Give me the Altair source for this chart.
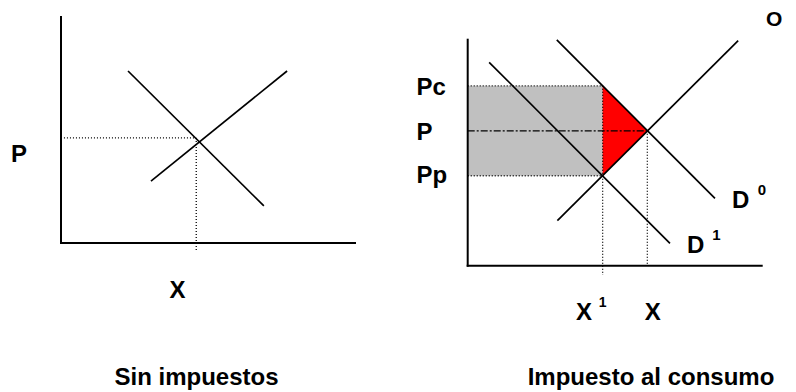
import altair as alt
import pandas as pd

# ---------------- data (economic units, both axes run 0..10) ----------------
AXIS_MAX = 10.0

# Left panel: "Sin impuestos"
L_demand = [2.28, 7.61, 6.90, 1.64]   # q1, p1, q2, p2
L_supply = [3.06, 2.74, 7.69, 7.61]
L_eq_q = 4.60
L_eq_p = 4.65
L_guide_low = -0.35

L_label_text = ["P", "X"]
L_label_q = [-1.70, 3.96]
L_label_p = [3.58, -2.43]
L_title = "Sin impuestos"
L_title_q = 4.61
L_title_p = -6.28

# Right panel: "Impuesto al consumo"
R_D0 = [3.03, 9.99, 8.41, 2.98]
R_D1 = [0.73, 9.00, 6.88, 0.99]
R_S = [3.05, 1.99, 9.20, 9.96]
R_Pc, R_P, R_Pp = 7.96, 5.97, 3.98
R_X1, R_X = 4.59, 6.11
R_X1_low = -0.41

R_left_text = ["Pc", "P", "Pp", "D", "D"]
R_left_q = [-1.74, -1.74, -1.74, 8.99, 7.46]
R_left_p = [7.55, 5.56, 3.66, 2.55, 0.56]
R_center_text = ["X", "X", "0", "1", "1"]
R_center_q = [3.96, 6.29, 10.01, 8.46, 4.59]
R_center_p = [-2.40, -2.40, 3.13, 1.13, -1.84]
R_center_fs = [24, 24, 15, 15, 14]
R_right_text = ["O", "Impuesto al consumo"]
R_right_q = [10.70, 10.43]
R_right_p = [10.60, -5.28]
R_right_fs = [21, 24]

# ---------------- layout (pixels) ----------------
PX_X = 29.4   # px per unit on the quantity axis
PX_Y = 22.6   # px per unit on the price axis
H = 384
W_L, W_R = 398, 382
L_ORIGIN = (53.0, 235.0)
R_ORIGIN = (61.7, 257.7)
FONT = "Liberation Sans"
FS = 24


def make_scales(w, origin):
    ox, oy = origin
    xs = alt.Scale(domain=[-ox / PX_X, (w - ox) / PX_X], nice=False, zero=False)
    ys = alt.Scale(domain=[-(H - oy) / PX_Y, oy / PX_Y], nice=False, zero=False)
    return xs, ys


def seg_df(segs):
    return pd.DataFrame(segs, columns=["q", "p", "q2", "p2"])


def rules(df, xs, ys, **mk):
    return alt.Chart(df).mark_rule(**mk).encode(
        x=alt.X("q:Q", scale=xs, axis=None),
        y=alt.Y("p:Q", scale=ys, axis=None),
        x2="q2:Q",
        y2="p2:Q",
    )


def texts(df, xs, ys, align):
    return alt.Chart(df).mark_text(
        align=align, baseline="alphabetic", font=FONT, fontWeight="bold", color="black"
    ).encode(
        x=alt.X("q:Q", scale=xs, axis=None),
        y=alt.Y("p:Q", scale=ys, axis=None),
        text="t:N",
        size=alt.Size("fs:Q", scale=None, legend=None),
    )


axes_segs = [[0, 0, AXIS_MAX, 0], [0, 0, 0, AXIS_MAX]]
DOT = dict(color="black", strokeWidth=1.3, strokeDash=[1, 2])

# ---------------- left panel ----------------
xsL, ysL = make_scales(W_L, L_ORIGIN)
left_dotted = seg_df([[0.1, L_eq_p, L_eq_q, L_eq_p], [L_eq_q, L_eq_p, L_eq_q, L_guide_low]])
left_curves = seg_df([L_demand, L_supply])
left_lbl = pd.DataFrame({"q": L_label_q, "p": L_label_p, "t": L_label_text, "fs": [FS] * len(L_label_text)})
left_lbl_a = left_lbl.iloc[[0]]
left_lbl_c = pd.concat([left_lbl.iloc[[1]],
                        pd.DataFrame({"q": [L_title_q], "p": [L_title_p], "t": [L_title], "fs": [FS]})])

left = alt.layer(
    rules(left_dotted, xsL, ysL, **DOT),
    rules(left_curves, xsL, ysL, color="black", strokeWidth=1.7),
    rules(seg_df(axes_segs), xsL, ysL, color="black", strokeWidth=2, strokeCap="square"),
    texts(left_lbl_a, xsL, ysL, "left"),
    texts(left_lbl_c, xsL, ysL, "center"),
).properties(width=W_L, height=H)

# ---------------- right panel ----------------
xsR, ysR = make_scales(W_R, R_ORIGIN)
rect_df = pd.DataFrame({"q": [0.0], "q2": [R_X1], "p": [R_Pp], "p2": [R_Pc]})
gray = alt.Chart(rect_df).mark_rect(color="#C0C0C0").encode(
    x=alt.X("q:Q", scale=xsR, axis=None), x2="q2:Q",
    y=alt.Y("p:Q", scale=ysR, axis=None), y2="p2:Q")
tri_df = pd.DataFrame({"q": [R_X1, R_X], "p": [R_Pp, R_P], "p2": [R_Pc, R_P]})
red = alt.Chart(tri_df).mark_area(color="#FF0000", opacity=1).encode(
    x=alt.X("q:Q", scale=xsR, axis=None),
    y=alt.Y("p:Q", scale=ysR, axis=None), y2="p2:Q")
right_dotted = seg_df([
    [0, R_Pc, R_X1, R_Pc],
    [0, R_Pp, R_X1, R_Pp],
    [R_X1, R_Pc, R_X1, R_X1_low],
    [R_X, R_P, R_X, 0],
])
right_dashdot = seg_df([[0, R_P, R_X, R_P]])
right_curves = seg_df([R_D0, R_D1, R_S])
r_lbl_left = pd.DataFrame({"q": R_left_q, "p": R_left_p, "t": R_left_text, "fs": [FS] * len(R_left_text)})
r_lbl_center = pd.DataFrame({"q": R_center_q, "p": R_center_p, "t": R_center_text, "fs": R_center_fs})
r_lbl_right = pd.DataFrame({"q": R_right_q, "p": R_right_p, "t": R_right_text, "fs": R_right_fs})

right = alt.layer(
    gray,
    red,
    rules(right_dotted, xsR, ysR, **DOT),
    rules(right_dashdot, xsR, ysR, color="black", strokeWidth=1.3, strokeDash=[7, 2, 2, 2]),
    rules(right_curves, xsR, ysR, color="black", strokeWidth=1.7),
    rules(seg_df(axes_segs), xsR, ysR, color="black", strokeWidth=2, strokeCap="square"),
    texts(r_lbl_left, xsR, ysR, "left"),
    texts(r_lbl_center, xsR, ysR, "center"),
    texts(r_lbl_right, xsR, ysR, "right"),
).properties(width=W_R, height=H)

chart = alt.hconcat(left, right, spacing=0, bounds="flush").properties(
    autosize=alt.AutoSizeParams(type="pad"), padding=0, background="white"
).configure_view(strokeWidth=0)

chart.save("out.html", embed_options={"renderer": "svg", "actions": False})
